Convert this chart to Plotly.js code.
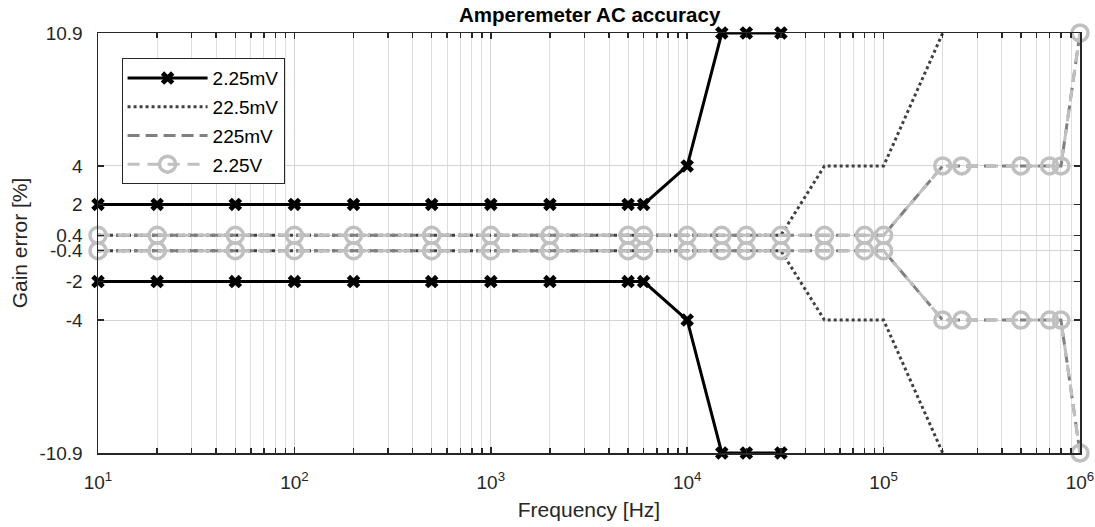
<!DOCTYPE html>
<html>
<head>
<meta charset="utf-8">
<script src="https://cdn.plot.ly/plotly-3.0.1.min.js"></script>
<style>html,body{margin:0;padding:0;background:#fff;}#chart{width:1095px;height:527px;}</style>
</head>
<body>
<div id="chart"></div>
<script>
// ---- data ----
const freq_2_25mV = [10, 20, 50, 100, 200, 500, 1000, 2000, 5000, 6000, 10000, 15000, 20000, 30000];
const err_2_25mV = [2, 2, 2, 2, 2, 2, 2, 2, 2, 2, 4, 10.9, 10.9, 10.9];

const freq_22_5mV = [10, 20, 50, 100, 200, 500, 1000, 2000, 5000, 6000, 10000, 15000, 20000, 30000, 50000, 100000, 200000];
const err_22_5mV = [0.4, 0.4, 0.4, 0.4, 0.4, 0.4, 0.4, 0.4, 0.4, 0.4, 0.4, 0.4, 0.4, 0.4, 4, 4, 10.9];

const freq_high = [10, 20, 50, 100, 200, 500, 1000, 2000, 5000, 6000, 10000, 15000, 20000, 30000, 50000, 80000, 100000, 200000, 250000, 500000, 700000, 800000, 1000000];
const err_225mV = [0.4, 0.4, 0.4, 0.4, 0.4, 0.4, 0.4, 0.4, 0.4, 0.4, 0.4, 0.4, 0.4, 0.4, 0.4, 0.4, 0.4, 4, 4, 4, 4, 4, 10.9];
const err_2_25V = [0.4, 0.4, 0.4, 0.4, 0.4, 0.4, 0.4, 0.4, 0.4, 0.4, 0.4, 0.4, 0.4, 0.4, 0.4, 0.4, 0.4, 4, 4, 4, 4, 4, 10.9];

const seriesNames = ['2.25mV', '22.5mV', '225mV', '2.25V'];
const yTickVals = [-10.9, -4, -2, -0.4, 0.4, 2, 4, 10.9];
const yTickText = ['-10.9', '-4', '-2', '-0.4', '0.4', '2', '4', '10.9'];
const xTickVals = [10, 100, 1000, 10000, 100000, 1000000];
const xTickText = ['10<sup>1</sup>', '10<sup>2</sup>', '10<sup>3</sup>', '10<sup>4</sup>', '10<sup>5</sup>', '10<sup>6</sup>'];

// ---- build ----
const neg = a => a.map(v => -v);
const minorVals = [];
for (let d = 1; d < 6; d++) for (let k = 2; k <= 9; k++) minorVals.push(k * Math.pow(10, d));

const styles = [
  {line: {color: '#000000', width: 3, dash: 'solid'}, mode: 'lines+markers',
   marker: {symbol: 'x', size: 12, color: '#000000', line: {width: 0}}},
  {line: {color: '#404040', width: 3, dash: '3px,3px'}, mode: 'lines'},
  {line: {color: '#808080', width: 3, dash: '12px,6px'}, mode: 'lines'},
  {line: {color: '#c0c0c0', width: 3, dash: '12px,8px'}, mode: 'lines+markers',
   marker: {symbol: 'circle-open', size: 16, color: '#c0c0c0', line: {width: 3.5, color: '#c0c0c0'}}}
];
const xs = [freq_2_25mV, freq_22_5mV, freq_high, freq_high];
const ys = [err_2_25mV, err_22_5mV, err_225mV, err_2_25V];

const traces = [];
for (let i = 0; i < 4; i++) {
  const base = Object.assign({type: 'scatter', name: seriesNames[i], legendgroup: 'g' + i, cliponaxis: false}, styles[i]);
  traces.push(Object.assign({}, base, {x: xs[i], y: ys[i], showlegend: true}));
  traces.push(Object.assign({}, base, {x: xs[i], y: neg(ys[i]), showlegend: false}));
}

const fam = 'Liberation Sans, Arial, sans-serif';
const tickFont = {family: fam, size: 19, color: '#262626'};
const labelFont = {family: fam, size: 21, color: '#262626'};
const layout = {
  width: 1095, height: 527,
  margin: {l: 98, r: 15, t: 33, b: 74},
  paper_bgcolor: '#ffffff', plot_bgcolor: '#ffffff',
  font: tickFont,
  title: {text: '<b>Amperemeter AC accuracy</b>', x: 0.5385, xanchor: 'center', y: 0.972, yanchor: 'middle',
          font: {family: fam, size: 20.5, color: '#000000'}},
  showlegend: true,
  legend: {x: 0.024, y: 0.94, xanchor: 'left', yanchor: 'top', bgcolor: '#ffffff',
           bordercolor: '#262626', borderwidth: 1, font: {family: fam, size: 19, color: '#000000'},
           itemwidth: 80, tracegroupgap: 1},
  xaxis: {
    type: 'log', range: [1, 6], tickmode: 'array', tickvals: xTickVals, ticktext: xTickText,
    ticks: 'inside', ticklen: 6, tickcolor: '#262626', tickwidth: 1.5, ticklabelstandoff: 12,
    showline: true, linecolor: '#262626', linewidth: 1.5, mirror: 'ticks',
    showgrid: true, gridcolor: '#d4d4d4', gridwidth: 1, zeroline: false,
    minor: {tickmode: 'array', tickvals: minorVals, ticks: 'inside', ticklen: 5, tickcolor: '#262626', tickwidth: 1.5,
            showgrid: true, gridcolor: '#dedede', gridwidth: 1},
    title: {text: 'Frequency [Hz]', font: labelFont, standoff: 10},
    tickfont: tickFont
  },
  yaxis: {
    range: [-10.9, 10.9], tickmode: 'array', tickvals: yTickVals, ticktext: yTickText,
    ticks: 'inside', ticklen: 6, tickcolor: '#262626', tickwidth: 1.5, ticklabelstandoff: 10,
    showline: true, linecolor: '#262626', linewidth: 1.5, mirror: 'ticks',
    showgrid: true, gridcolor: '#d4d4d4', gridwidth: 1, zeroline: false,
    title: {text: 'Gain error [%]', font: labelFont, standoff: 6},
    tickfont: tickFont
  }
};

Plotly.newPlot('chart', traces, layout, {displayModeBar: false, staticPlot: true});
</script>
</body>
</html>
